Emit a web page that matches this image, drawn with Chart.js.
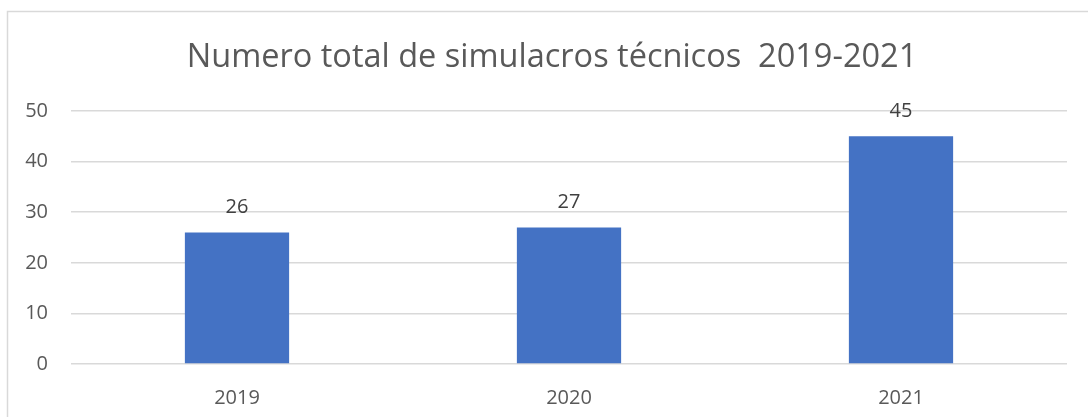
<!DOCTYPE html>
<html>
<head>
<meta charset="utf-8">
<script src="https://cdn.jsdelivr.net/npm/chart.js@4"></script>
<style>
  html, body { margin: 0; padding: 0; background: #fff; overflow: hidden; }
  #wrap { position: relative; width: 1088px; height: 417px; }
</style>
</head>
<body>
<div id="wrap"><canvas id="chart" width="1088" height="417"></canvas></div>
<script>
// chart data
const years = ['2019', '2020', '2021'];
const simulacros = [26, 27, 45];
const yTicks = [0, 10, 20, 30, 40, 50];
const titleText = 'Numero total de simulacros técnicos  2019-2021';

const FONT = "'Open Sans', 'Noto Sans', sans-serif";

// light frame around the chart box + title centred on the box
const framePlugin = {
  id: 'frame',
  beforeDraw(chart) {
    const ctx = chart.ctx;
    ctx.save();
    ctx.strokeStyle = '#d9d9d9';
    ctx.lineWidth = 1.5;
    ctx.strokeRect(7.5, 11.5, 1090, 600);
    ctx.font = '32.5px ' + FONT;
    ctx.fillStyle = '#595959';
    ctx.textAlign = 'center';
    ctx.textBaseline = 'middle';
    ctx.fillText(titleText, 552, 58);
    ctx.restore();
  }
};

// value labels above each bar
const valueLabels = {
  id: 'valueLabels',
  afterDatasetsDraw(chart) {
    const ctx = chart.ctx;
    ctx.save();
    ctx.font = '20px ' + FONT;
    ctx.fillStyle = '#404040';
    ctx.textAlign = 'center';
    ctx.textBaseline = 'middle';
    chart.getDatasetMeta(0).data.forEach((bar, i) => {
      ctx.fillText(simulacros[i], bar.x, bar.y - 25);
    });
    ctx.restore();
  }
};

new Chart(document.getElementById('chart'), {
  type: 'bar',
  data: {
    labels: years,
    datasets: [{
      data: simulacros,
      backgroundColor: '#4472C4',
      categoryPercentage: 1,
      barPercentage: 0.314
    }]
  },
  options: {
    responsive: false,
    animation: false,
    layout: { padding: { left: 0, right: 21, top: 111, bottom: 0 } },
    plugins: {
      legend: { display: false },
      tooltip: { enabled: false },
      title: { display: false }
    },
    scales: {
      x: {
        grid: { display: false, drawTicks: false },
        border: { display: false },
        ticks: { color: '#595959', font: { family: FONT, size: 20 }, padding: 22 },
        afterFit(scale) { scale.height = 53; }
      },
      y: {
        min: 0,
        max: 50,
        afterBuildTicks(scale) { scale.ticks = yTicks.map(v => ({ value: v })); },
        grid: { color: '#d9d9d9', lineWidth: 1.5, drawTicks: false },
        border: { display: false },
        ticks: { color: '#595959', font: { family: FONT, size: 20 }, padding: 23 },
        afterFit(scale) { scale.width = 71; }
      }
    }
  },
  plugins: [framePlugin, valueLabels]
});
</script>
</body>
</html>
